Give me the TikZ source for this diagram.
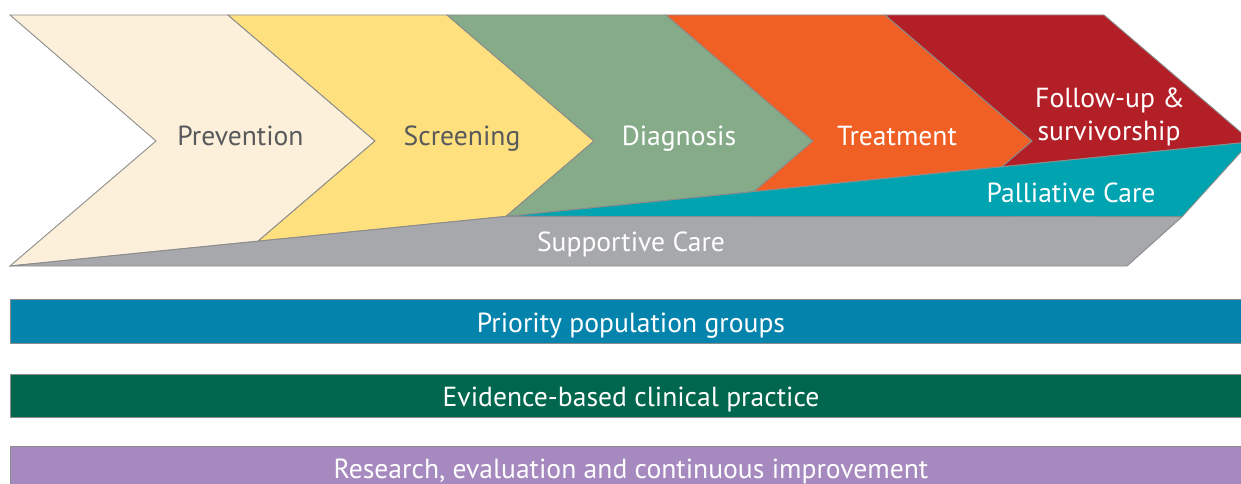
\documentclass[tikz,border=0pt]{standalone}
\usepackage{fontspec}
\setmainfont{PT Sans}
\definecolor{cPrev}{HTML}{FDF0DB}
\definecolor{cScr}{HTML}{FFE07F}
\definecolor{cDia}{HTML}{85AB89}
\definecolor{cTre}{HTML}{F05F24}
\definecolor{cFol}{HTML}{B31F26}
\definecolor{cPal}{HTML}{00A3B0}
\definecolor{cSup}{HTML}{A7A8AB}
\definecolor{cBlue}{HTML}{0483AC}
\definecolor{cGreen}{HTML}{00664D}
\definecolor{cPurple}{HTML}{A689BF}
\definecolor{cLine}{HTML}{8C8C8C}
\definecolor{cDark}{HTML}{58595B}
\tikzset{
  seg/.style={draw=cLine, line width=0.9pt, line join=miter},
  lbl/.style={anchor=base, font=\fontsize{27.6}{32}\selectfont, text=white, inner sep=0pt},
  lbldark/.style={lbl, text=cDark},
}
\begin{document}
\begin{tikzpicture}[x=1pt,y=-1pt]
\useasboundingbox (0,0) rectangle (1241,484);
\clip (0,0) rectangle (1241,484);
% chevrons
\path[seg, fill=cPrev] (10,15) -- (228,15) -- (375,141) -- (258,241.2) -- (10,266) -- (156,141) -- cycle;
\path[seg, fill=cScr] (228,15) -- (447,15) -- (594,141) -- (506,216.4) -- (258,241.2) -- (375,141) -- cycle;
\path[seg, fill=cDia] (447,15) -- (666,15) -- (813,141) -- (754,191.6) -- (506,216.4) -- (594,141) -- cycle;
\path[seg, fill=cTre] (666,15) -- (885,15) -- (1032,141) -- (1002,166.8) -- (754,191.6) -- (813,141) -- cycle;
\path[seg, fill=cFol] (885,15) -- (1104,15) -- (1251,141) -- (1250,142) -- (1002,166.8) -- (1032,141) -- cycle;
% palliative and supportive
\path[seg, fill=cPal] (506,216.4) -- (1250,142) -- (1182,216.8) -- cycle;
\path[seg, fill=cSup] (10,266) -- (506,216.4) -- (1182,216.8) -- (1127,266) -- cycle;
% bars
\path[seg, fill=cBlue] (10,299) rectangle (1250,343);
\path[seg, fill=cGreen] (10,374) rectangle (1250,417);
\path[seg, fill=cPurple] (10,446) rectangle (1250,495);
% labels
\node[lbldark] (prev) at (240.5,145) {Prevention};
\node[lbldark] (scr) at (462,145) {Screening};
\node[lbl] (dia) at (679,145) {Diagnosis};
\node[lbl] (tre) at (897,145) {Treatment};
\node[lbl] (fol1) at (1110,108) {Follow-up \&};
\node[lbl] (fol2) at (1109,140) {survivorship};
\node[lbl] (pal) at (1071,202) {Palliative Care};
\node[lbl] (sup) at (631,251) {Supportive Care};
\node[lbl] (pri) at (631,332) {Priority population groups};
\node[lbl] (evi) at (631,406) {Evidence-based clinical practice};
\node[lbl] (res) at (631,478) {Research, evaluation and continuous improvement};
\end{tikzpicture}
\end{document}
